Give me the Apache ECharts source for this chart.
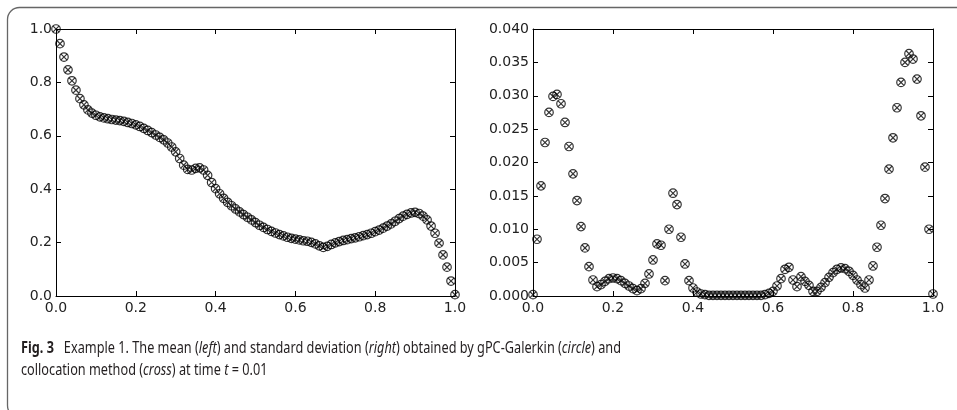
<!DOCTYPE html>
<html>
<head>
<meta charset="utf-8">
<script src="https://cdn.jsdelivr.net/npm/echarts@6/dist/echarts.min.js"></script>
<style>
html,body{margin:0;padding:0;background:#fff;}
#c{width:957px;height:410px;}
</style>
</head>
<body>
<div id="c"></div>
<script>
// sample positions (shared by both panels)
const xGrid = [0.00,0.01,0.02,0.03,0.04,0.05,0.06,0.07,0.08,0.09,
  0.10,0.11,0.12,0.13,0.14,0.15,0.16,0.17,0.18,0.19,
  0.20,0.21,0.22,0.23,0.24,0.25,0.26,0.27,0.28,0.29,
  0.30,0.31,0.32,0.33,0.34,0.35,0.36,0.37,0.38,0.39,
  0.40,0.41,0.42,0.43,0.44,0.45,0.46,0.47,0.48,0.49,
  0.50,0.51,0.52,0.53,0.54,0.55,0.56,0.57,0.58,0.59,
  0.60,0.61,0.62,0.63,0.64,0.65,0.66,0.67,0.68,0.69,
  0.70,0.71,0.72,0.73,0.74,0.75,0.76,0.77,0.78,0.79,
  0.80,0.81,0.82,0.83,0.84,0.85,0.86,0.87,0.88,0.89,
  0.90,0.91,0.92,0.93,0.94,0.95,0.96,0.97,0.98,0.99,1.00];

// left panel: mean
const meanValues = [1.000,0.945,0.895,0.847,0.806,0.771,0.739,0.716,0.697,0.685,
  0.677,0.671,0.667,0.664,0.661,0.659,0.657,0.654,0.650,0.646,
  0.641,0.635,0.628,0.620,0.612,0.603,0.594,0.585,0.573,0.558,
  0.540,0.515,0.490,0.474,0.472,0.478,0.480,0.472,0.452,0.425,
  0.402,0.383,0.366,0.351,0.338,0.326,0.315,0.305,0.295,0.285,
  0.275,0.265,0.257,0.249,0.242,0.236,0.230,0.225,0.220,0.216,
  0.213,0.210,0.207,0.205,0.201,0.195,0.188,0.182,0.186,0.193,
  0.199,0.204,0.208,0.211,0.215,0.218,0.222,0.226,0.230,0.235,
  0.241,0.247,0.254,0.262,0.270,0.280,0.290,0.299,0.306,0.311,
  0.313,0.309,0.299,0.285,0.262,0.235,0.198,0.154,0.108,0.056,0.005];

// right panel: standard deviation
const stdValues = [0.0002,0.0085,0.0165,0.0230,0.0275,0.0299,0.0302,0.0288,0.0260,0.0224,
  0.0183,0.0143,0.0104,0.0072,0.0044,0.0024,0.0014,0.0017,0.0022,0.0026,
  0.0027,0.0026,0.0023,0.0019,0.0015,0.0011,0.0008,0.0011,0.0019,0.0033,
  0.0054,0.0078,0.0076,0.0023,0.0100,0.0154,0.0137,0.0088,0.0048,0.0023,
  0.0012,0.0006,0.0003,0.0002,0.0001,0.0001,0.0001,0.0001,0.0001,0.0001,
  0.0001,0.0001,0.0001,0.0001,0.0001,0.0001,0.0001,0.0001,0.0002,0.0004,
  0.0007,0.0015,0.0026,0.0040,0.0043,0.0024,0.0014,0.0029,0.0022,0.0016,
  0.0007,0.0007,0.0013,0.0020,0.0028,0.0035,0.0040,0.0042,0.0041,0.0037,
  0.0031,0.0024,0.0017,0.0012,0.0024,0.0045,0.0073,0.0106,0.0146,0.0190,
  0.0237,0.0282,0.0320,0.0350,0.0363,0.0355,0.0325,0.0270,0.0193,0.0100,0.0003];

const leftYTicks = {min:0, max:1, interval:0.2, digits:1};
const rightYTicks = {min:0, max:0.04, interval:0.005, digits:3};
const xTicks = {min:0, max:1, interval:0.2, digits:1};

const chart = echarts.init(document.getElementById('c'), null, {renderer:'canvas'});

const tickFont = 'DejaVu Sans';
function mkX(gi, pos, showLabel){
  return {type:'value', gridIndex:gi, position:pos, min:xTicks.min, max:xTicks.max, interval:xTicks.interval,
    axisLine:{show:true, onZero:false, lineStyle:{color:'#000', width:1}},
    axisTick:{show:true, inside:true, length:5, lineStyle:{color:'#000', width:1}},
    splitLine:{show:false},
    axisLabel:{show:showLabel, margin:5, color:'#222', fontFamily:tickFont, fontSize:14,
      formatter:v=>v.toFixed(xTicks.digits)}};
}
function mkY(gi, pos, showLabel, t){
  return {type:'value', gridIndex:gi, position:pos, min:t.min, max:t.max, interval:t.interval,
    axisLine:{show:true, onZero:false, lineStyle:{color:'#000', width:1}},
    axisTick:{show:true, inside:true, length:5, lineStyle:{color:'#000', width:1}},
    splitLine:{show:false},
    axisLabel:{show:showLabel, margin:4, color:'#222', fontFamily:tickFont, fontSize:14,
      formatter:v=>v.toFixed(t.digits)}};
}
function pts(vals){ return xGrid.map((x,i)=>[x, vals[i]]); }

const circleStyle = {color:'rgba(0,0,0,0)', borderColor:'#000', borderWidth:1.2};
const crossStyle = {color:'rgba(0,0,0,0)', borderColor:'#000', borderWidth:1.2};
const crossPath = 'path://M0,0L10,10M10,0L0,10';
function circ(data, xi, yi){ return {type:'scatter', name:'gPC-Galerkin', xAxisIndex:xi, yAxisIndex:yi, data:data,
  symbol:'circle', symbolSize:8.5, itemStyle:circleStyle, silent:true, clip:true}; }
function cross(data, xi, yi){ return {type:'scatter', name:'collocation', xAxisIndex:xi, yAxisIndex:yi, data:data,
  symbol:crossPath, symbolSize:5.8, itemStyle:crossStyle, silent:true, clip:true}; }

// caption sizing
const capFam = '"Noto Sans", sans-serif';
const capSize = 16;
const cv = document.createElement('canvas').getContext('2d');
function tw(font, t){ cv.font = font; return cv.measureText(t).width; }
const fN = capSize+'px '+capFam, fB = 'bold '+capSize+'px '+capFam, fI = 'italic '+capSize+'px '+capFam;
const line1W = tw(fB,'Fig. 3') + tw(fN,'   Example 1. The mean (') + tw(fI,'left') + tw(fN,') and standard deviation (')
  + tw(fI,'right') + tw(fN,') obtained by gPC-Galerkin (') + tw(fI,'circle') + tw(fN,') and');
const capScale = 600 / line1W;

const rich = {
  b:{fontFamily:capFam, fontSize:capSize, fontWeight:'bold', fill:'#231f20'},
  n:{fontFamily:capFam, fontSize:capSize, fill:'#231f20'},
  i:{fontFamily:capFam, fontSize:capSize, fontStyle:'italic', fill:'#231f20'}
};

const option = {
  animation:false,
  backgroundColor:'#fff',
  grid:[{left:56, top:29, width:399, height:267}, {left:533, top:29, width:400, height:267}],
  xAxis:[mkX(0,'bottom',true), mkX(0,'top',false), mkX(1,'bottom',true), mkX(1,'top',false)],
  yAxis:[mkY(0,'left',true,leftYTicks), mkY(0,'right',false,leftYTicks), mkY(1,'left',true,rightYTicks), mkY(1,'right',false,rightYTicks)],
  series:[circ(pts(meanValues),0,0), cross(pts(meanValues),0,0), circ(pts(stdValues),2,2), cross(pts(stdValues),2,2)],
  graphic:[
    {type:'rect', silent:true, z:-10, shape:{x:7.5, y:7.5, width:1000, height:410, r:12},
      style:{fill:'none', stroke:'#666', lineWidth:1.3}},
    {type:'text', silent:true, x:21, y:348, scaleX:capScale,
      style:{text:'{b|Fig. 3}{n|   Example 1. The mean (}{i|left}{n|) and standard deviation (}{i|right}{n|) obtained by gPC-Galerkin (}{i|circle}{n|) and}',
        rich:rich, verticalAlign:'middle', align:'left'}},
    {type:'text', silent:true, x:21, y:370, scaleX:capScale,
      style:{text:'{n|collocation method (}{i|cross}{n|) at time }{i|t}{n| = 0.01}',
        rich:rich, verticalAlign:'middle', align:'left'}}
  ]
};
chart.setOption(option);
</script>
</body>
</html>
